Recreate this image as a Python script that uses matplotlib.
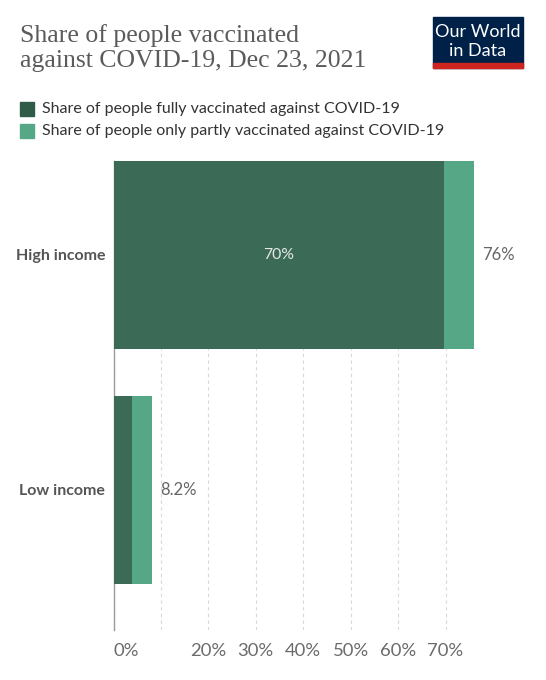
import matplotlib.pyplot as plt
from matplotlib.patches import Rectangle

# data
categories = ["High income", "Low income"]
fully_vaccinated = [69.6, 3.9]
partly_vaccinated = [6.4, 4.3]
total_labels = ["76%", "8.2%"]
fully_labels = ["70%", ""]
tick_values = [0, 10, 20, 30, 40, 50, 60, 70]
tick_labels = ["0%", "", "20%", "30%", "40%", "50%", "60%", "70%"]
series_names = ["Share of people fully vaccinated against COVID-19",
                "Share of people only partly vaccinated against COVID-19"]

DARK = "#3b6a56"
LIGHT = "#55a786"
GREY_TEXT = "#5b5b5b"

plt.rcParams["font.family"] = ["Lato", "DejaVu Sans"]

W, H = 546, 680
fig = plt.figure(figsize=(W / 100, H / 100), dpi=100)


def fx(px):
    return px / W


def fy(py):
    return 1 - py / H


ax = fig.add_axes([fx(113.5), fy(630), fx(474) - fx(113.5), fy(161) - fy(630)])

positions = list(range(len(categories)))
ax.barh(positions, fully_vaccinated, height=0.8, color=DARK, zorder=2)
ax.barh(positions, partly_vaccinated, left=fully_vaccinated, height=0.8, color=LIGHT, zorder=2)

for pos, full, part, tot_lab, full_lab in zip(positions, fully_vaccinated, partly_vaccinated,
                                              total_labels, fully_labels):
    ax.annotate(tot_lab, (full + part, pos), xytext=(5.5, 0), textcoords="offset points",
                va="center", ha="left", fontsize=12, color="#666666")
    if full_lab:
        ax.text(full / 2, pos, full_lab, va="center", ha="center", fontsize=11.3, color="#e8e8e8", zorder=3)

ax.set_xlim(0, 76)
ax.set_ylim(1.596, -0.4)
ax.set_yticks(positions)
ax.set_yticklabels(categories, fontsize=11.5, color="#555555", fontweight="bold")
ax.set_xticks(tick_values)
ax.set_xticklabels(tick_labels, fontsize=13.3, color="#6b6b6b")
ax.get_xticklabels()[0].set_horizontalalignment("left")
ax.tick_params(axis="both", length=0)
ax.tick_params(axis="x", pad=9)
ax.tick_params(axis="y", pad=6)
ax.grid(axis="x", color="#d8d8d8", linestyle=(0, (3, 3)), linewidth=0.8, zorder=1)
ax.set_axisbelow(True)
for side in ["top", "right", "bottom"]:
    ax.spines[side].set_visible(False)
ax.spines["left"].set_color("#9a9a9a")
ax.spines["left"].set_linewidth(1.0)
ax.spines["left"].set_zorder(1)

# title
fig.text(fx(20), fy(42), "Share of people vaccinated", fontsize=18.5, color=GREY_TEXT,
         family="Liberation Serif", va="baseline", ha="left")
fig.text(fx(20), fy(67), "against COVID-19, Dec 23, 2021", fontsize=18.5, color=GREY_TEXT,
         family="Liberation Serif", va="baseline", ha="left")

# legend
for i, (name, col) in enumerate(zip(series_names, ["#2f5c48", LIGHT])):
    y_top = 102 + i * 22
    fig.patches.append(Rectangle((fx(20), fy(y_top + 14)), fx(14), fy(0) - fy(14),
                                 transform=fig.transFigure, color=col))
    fig.text(fx(42), fy(y_top + 7), name, fontsize=11.5, color="#333333", va="center", ha="left")

# logo
fig.patches.append(Rectangle((fx(433), fy(68)), fx(90), fy(17) - fy(68),
                             transform=fig.transFigure, color="#002147"))
fig.patches.append(Rectangle((fx(433), fy(68)), fx(90), fy(63) - fy(68),
                             transform=fig.transFigure, color="#ce261e"))
fig.text(fx(478), fy(32), "Our World", fontsize=13, color="white", ha="center", va="center",
         family="Lato")
fig.text(fx(478), fy(51), "in Data", fontsize=13, color="white", ha="center", va="center",
         family="Lato")

fig.savefig("out.png", dpi=100)
